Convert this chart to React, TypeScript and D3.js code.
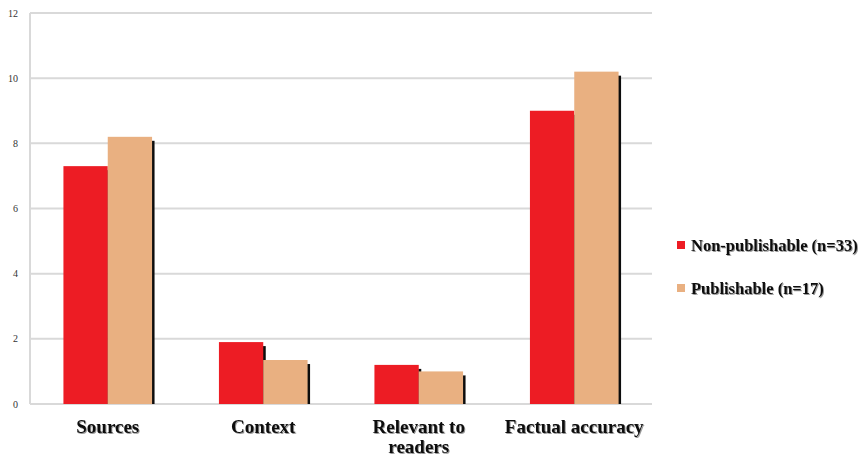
import { useEffect, useRef } from "react";
import * as d3 from "d3";

const categories = ["Sources", "Context", "Relevant to readers", "Factual accuracy"];
const categoryLines = [["Sources"], ["Context"], ["Relevant to", "readers"], ["Factual accuracy"]];
const seriesNames = ["Non-publishable (n=33)", "Publishable (n=17)"];
const nonPublishable = [7.3, 1.9, 1.2, 9.0];
const publishable = [8.2, 1.35, 1.0, 10.2];
const yTicks = [0, 2, 4, 6, 8, 10, 12];
const colors = ["#ED1C24", "#E9B081"];

export default function App() {
  const svgRef = useRef<SVGSVGElement>(null);

  useEffect(() => {
    if (!svgRef.current) return;
    const svg = d3.select(svgRef.current);
    svg.selectAll("*").remove();

    const width = 862;
    const height = 459;
    const plot = { left: 30, right: 652, top: 13, bottom: 404 };
    const font = "'Liberation Serif', 'Times New Roman', serif";

    const defs = svg.append("defs");
    const blur = defs.append("filter").attr("id", "soft").attr("x", "-20%").attr("y", "-20%").attr("width", "140%").attr("height", "140%");
    blur.append("feGaussianBlur").attr("stdDeviation", 0.6);

    const txtShadow = defs.append("filter").attr("id", "tshadow");
    txtShadow.append("feDropShadow").attr("dx", 1).attr("dy", 1).attr("stdDeviation", 0.7).attr("flood-color", "#000").attr("flood-opacity", 0.4);

    const x = d3.scaleBand<string>().domain(categories).range([plot.left, plot.right]).paddingInner(0.43).paddingOuter(0.215);
    const xInner = d3.scaleBand<number>().domain([0, 1]).range([0, x.bandwidth()]);
    const y = d3.scaleLinear().domain([0, 12]).range([plot.bottom, plot.top]);

    svg.append("rect").attr("width", width).attr("height", height).attr("fill", "#fff");

    // gridlines
    svg.append("g")
      .selectAll("line")
      .data(yTicks)
      .enter()
      .append("line")
      .attr("x1", plot.left)
      .attr("x2", plot.right)
      .attr("y1", (d) => y(d))
      .attr("y2", (d) => y(d))
      .attr("stroke", "#d9d9d9")
      .attr("stroke-width", 2);

    svg.append("line")
      .attr("x1", plot.left).attr("x2", plot.left)
      .attr("y1", plot.top).attr("y2", plot.bottom)
      .attr("stroke", "#d9d9d9").attr("stroke-width", 2);

    // tick labels
    svg.append("g")
      .selectAll("text")
      .data(yTicks)
      .enter()
      .append("text")
      .attr("x", 18)
      .attr("y", (d) => y(d) + 3.5)
      .attr("text-anchor", "end")
      .attr("font-family", font)
      .attr("font-size", 10)
      .attr("fill", "#333")
      .text((d) => d);

    const series = [nonPublishable, publishable];
    series.forEach((vals, si) => {
      const g = svg.append("g");
      vals.forEach((v, i) => {
        const bx = (x(categories[i]) || 0) + (xInner(si) || 0);
        const bw = xInner.bandwidth();
        // shadow on right side
        g.append("rect")
          .attr("x", bx + bw - 0.5)
          .attr("y", y(v) + 4)
          .attr("width", 3)
          .attr("height", plot.bottom - y(v) - 4)
          .attr("fill", "#111")
          .attr("filter", "url(#soft)");
        g.append("rect")
          .attr("x", bx)
          .attr("y", y(v))
          .attr("width", bw)
          .attr("height", plot.bottom - y(v))
          .attr("fill", colors[si]);
      });
    });

    // category labels
    categoryLines.forEach((lines, i) => {
      const cx = (x(categories[i]) || 0) + x.bandwidth() / 2;
      lines.forEach((ln, li) => {
        svg.append("text")
          .attr("x", cx)
          .attr("y", 433 + li * 20)
          .attr("text-anchor", "middle")
          .attr("font-family", font)
          .attr("font-size", 19)
          .attr("font-weight", "bold")
          .attr("fill", "#111")
          .attr("filter", "url(#tshadow)")
          .text(ln);
      });
    });

    // legend
    seriesNames.forEach((name, i) => {
      const ly = 245 + i * 43;
      svg.append("rect")
        .attr("x", 677)
        .attr("y", ly - 4)
        .attr("width", 8)
        .attr("height", 8)
        .attr("fill", colors[i]);
      svg.append("text")
        .attr("x", 691)
        .attr("y", ly + 5.5)
        .attr("font-family", font)
        .attr("font-size", 16.5)
        .attr("font-weight", "bold")
        .attr("fill", "#111")
        .attr("filter", "url(#tshadow)")
        .text(name);
    });
  }, []);

  return (
    <svg
      ref={svgRef}
      width={862}
      height={459}
      viewBox="0 0 862 459"
      style={{ position: "absolute", left: 0, top: 0, display: "block" }}
    />
  );
}
